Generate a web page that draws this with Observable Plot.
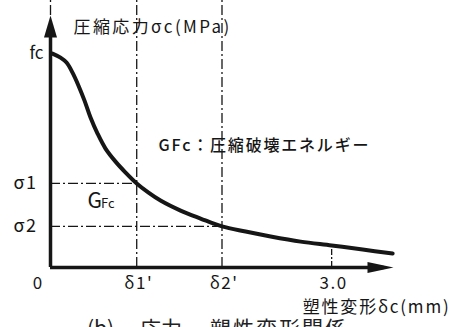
<!DOCTYPE html>
<html>
<head>
<meta charset="utf-8">
<script src="https://cdn.jsdelivr.net/npm/d3@7"></script>
<script src="https://cdn.jsdelivr.net/npm/@observablehq/plot@0.6"></script>
<style>
  body { margin: 0; background: #fff; width: 454px; height: 327px; overflow: hidden; position: relative; }
  .caption {
    position: absolute; top: 317px; white-space: pre;
    font-family: "Noto Sans CJK JP", sans-serif; font-size: 21px; color: #222; line-height: 1;
  }
  .wide text { letter-spacing: 2.4px; }
  .note text { letter-spacing: 1.8px; }
  .ticks text { letter-spacing: 1.5px; }
</style>
</head>
<body>
<div id="chart"></div>
<div id="caption"></div>
<script>
// Compressive stress vs plastic deformation (stress normalised by fc)
const deformation = [0.021, 0.107, 0.171, 0.235, 0.299, 0.363, 0.427, 0.502, 0.587, 0.694, 0.801, 0.92, 1.046, 1.174, 1.388, 1.601, 1.83, 2.082, 2.349, 2.669, 3.0, 3.331, 3.651];
const stress      = [1.0, 0.981, 0.958, 0.911, 0.850, 0.780, 0.701, 0.626, 0.556, 0.495, 0.444, 0.393, 0.350, 0.313, 0.266, 0.229, 0.192, 0.168, 0.145, 0.121, 0.103, 0.084, 0.065];

// characteristic points
const deltaValues = [0.92, 1.83];
const sigmaValues = [0.393, 0.192];
const fcValue = 1.0;
const refDeformation = 3.0;
const refStress = 0.103;

// tick labels
const xTickValues = [0.92, 1.83, 3.0];
const xTickLabels = ["δ1'", "δ2'", "3.0"];
const sigmaLabels = ["σ1", "σ2"];
const fcLabel = "fc";
const originLabel = "0";

// axis extents
const xMax = 3.66;
const yMax = 1.178;

// texts
const yTitle = "圧縮応力σc(MPa)";
const xTitle = "塑性変形δc(mm)";
const energyNote = "GFc：圧縮破壊エネルギー";
const captionParts = ["(b)", "応力", "－", "塑性変形関係"];

const ink = "#161616";
const jp = `"Noto Sans CJK JP", sans-serif`;
const dashDot = "10,3,2,3";

// filled arrowheads, tip at the symbol origin
const headRight = { draw(ctx) { ctx.moveTo(0, 0); ctx.lineTo(-26, -5.5); ctx.lineTo(-26, 5.5); ctx.closePath(); } };
const headUp = { draw(ctx) { ctx.moveTo(0, 0); ctx.lineTo(-6.5, 22); ctx.lineTo(6.5, 22); ctx.closePath(); } };

const xLabelOf = new Map(xTickValues.map((v, i) => [v, xTickLabels[i]]));
const yLabelOf = new Map(sigmaValues.map((v, i) => [v, sigmaLabels[i]]));

const chart = Plot.plot({
  width: 454,
  height: 318,
  marginLeft: 50,
  marginRight: 61,
  marginTop: 15,
  marginBottom: 51,
  x: { domain: [0, xMax], axis: null },
  y: { domain: [0, yMax], axis: null },
  style: { fontFamily: jp, color: ink, background: "transparent", overflow: "visible" },
  marks: [
    // guide lines
    Plot.ruleX(deltaValues, { y1: 0, y2: 1.25, stroke: ink, strokeWidth: 1.3, strokeDasharray: dashDot }),
    Plot.ruleX([0], { y1: yMax, y2: 1.25, stroke: ink, strokeWidth: 1.3, strokeDasharray: dashDot }),
    Plot.ruleY(sigmaValues, { x1: 0, x2: deltaValues, stroke: ink, strokeWidth: 1.3, strokeDasharray: dashDot }),
    Plot.ruleX([refDeformation], { y1: 0, y2: refStress, stroke: ink, strokeWidth: 1.3, strokeDasharray: "6,2,2,2" }),

    // axes with arrowheads
    Plot.ruleX([0], { y1: 0, y2: yMax - 0.05, stroke: ink, strokeWidth: 3.5 }),
    Plot.ruleY([0], { x1: 0, x2: xMax - 0.1, stroke: ink, strokeWidth: 3.5 }),
    Plot.dot([xMax], { x: d => d, y: 0, symbol: headRight, fill: ink, stroke: "none" }),
    Plot.dot([yMax], { x: 0, y: d => d, symbol: headUp, fill: ink, stroke: "none" }),

    // stress–deformation curve
    Plot.line(deformation, { x: deformation, y: stress, curve: "catmull-rom", stroke: ink, strokeWidth: 4, strokeLinecap: "round", strokeLinejoin: "round" }),

    // tick labels
    Plot.axisX(xTickValues, { tickFormat: d => xLabelOf.get(d), tickSize: 0, tickPadding: 9, fontSize: 17, label: null, dx: 2, className: "ticks" }),
    Plot.axisX([0], { tickFormat: () => originLabel, tickSize: 0, tickPadding: 9, fontSize: 17, label: null, dx: -13 }),
    Plot.axisY(sigmaValues, { tickFormat: d => yLabelOf.get(d), tickSize: 0, tickPadding: 13, fontSize: 18, label: null, className: "ticks" }),
    Plot.axisY([fcValue], { tickFormat: () => fcLabel, tickSize: 0, tickPadding: 7, fontSize: 17, label: null }),

    // titles and notes
    Plot.text([yTitle], { frameAnchor: "top-left", dx: 23, dy: 5, textAnchor: "start", lineAnchor: "top", fontSize: 17, fill: ink, className: "wide" }),
    Plot.text([xTitle], { frameAnchor: "bottom-right", dx: 57, dy: 33, textAnchor: "end", lineAnchor: "top", fontSize: 17, fill: ink, className: "note" }),
    Plot.text([energyNote], { x: 1.153, y: 0.57, textAnchor: "start", lineAnchor: "middle", fontSize: 16, fontWeight: 500, fill: ink, className: "note" }),
    Plot.text(["G"], { x: 0.395, y: 0.276, textAnchor: "start", lineAnchor: "bottom", fontSize: 21, fill: ink }),
    Plot.text(["Fc"], { x: 0.54, y: 0.276, textAnchor: "start", lineAnchor: "bottom", fontSize: 13, fill: ink })
  ]
});

document.getElementById("chart").append(chart);

// caption pieces set along the bottom edge
const captionLeft = [87, 140, 184, 210];
const captionSpacing = [0, 0, 0, 2];
const cap = document.getElementById("caption");
captionParts.forEach((t, i) => {
  const s = document.createElement("span");
  s.className = "caption";
  s.style.left = captionLeft[i] + "px";
  s.style.letterSpacing = captionSpacing[i] + "px";
  s.textContent = t;
  cap.append(s);
});
</script>
</body>
</html>
